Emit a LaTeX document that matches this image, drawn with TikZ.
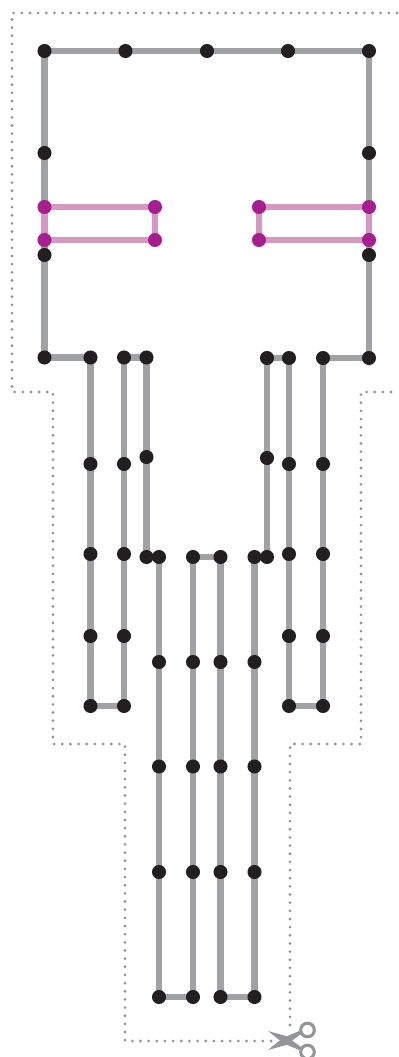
\documentclass[tikz,border=0pt]{standalone}
\usepackage{tikz}
\usetikzlibrary{backgrounds}
\definecolor{wire}{HTML}{A1A2A6}
\definecolor{wirepink}{HTML}{D697C1}
\definecolor{dotblack}{HTML}{231F20}
\definecolor{dotpink}{HTML}{A81E90}
\definecolor{cutgray}{HTML}{939598}
\tikzset{
  stitch/.style={circle, fill=dotblack, inner sep=0pt, minimum size=10pt},
  pinkstitch/.style={circle, fill=dotpink, inner sep=0pt, minimum size=10pt},
  wireline/.style={draw=wire, line width=4.7pt, line join=round},
  pinkline/.style={draw=wirepink, line width=4.7pt, line join=round},
  cutline/.style={draw=cutgray, line width=2.2pt, line cap=round, dash pattern=on 0pt off 5.8pt}
}
\begin{document}
\begin{tikzpicture}[x=0.025cm, y=-0.025cm]
        \useasboundingbox (0,0) rectangle (399,1057);

        % Top edge
        \node[stitch] (t1) at (44.5,51) {};
        \node[stitch] (t2) at (125.5,51) {};
        \node[stitch] (t3) at (207,51) {};
        \node[stitch] (t4) at (288,51) {};
        \node[stitch] (t5) at (369,51) {};

        % Left and right edges
        \node[stitch] (l1) at (44.5,153) {};
        \node[pinkstitch] (l2) at (44.5,207) {};
        \node[pinkstitch] (l3) at (44.5,240) {};
        \node[stitch] (l4) at (44.5,255) {};
        \node[stitch] (l5) at (44.5,357.5) {};
        \node[stitch] (r1) at (369,153) {};
        \node[pinkstitch] (r2) at (369,207) {};
        \node[pinkstitch] (r3) at (369,240) {};
        \node[stitch] (r4) at (369,255) {};
        \node[stitch] (r5) at (369,358) {};

        % Pink inner ends
        \node[pinkstitch] (pl1) at (155,207) {};
        \node[pinkstitch] (pl2) at (155,240) {};
        \node[pinkstitch] (pr1) at (259,207) {};
        \node[pinkstitch] (pr2) at (259,240) {};

        % Left fingers
        \node[stitch] (a1) at (90.5,357.5) {};
        \node[stitch] (a2) at (90.5,464) {};
        \node[stitch] (a3) at (90.5,554) {};
        \node[stitch] (a4) at (90.5,636) {};
        \node[stitch] (a5) at (90.5,706) {};
        \node[stitch] (b1) at (124,357.5) {};
        \node[stitch] (b2) at (124,464) {};
        \node[stitch] (b3) at (124,554) {};
        \node[stitch] (b4) at (124,636) {};
        \node[stitch] (b5) at (124,706) {};
        \node[stitch] (e1) at (146.5,357.5) {};
        \node[stitch] (e2) at (146.5,457) {};
        \node[stitch] (e3) at (146.5,557) {};

        % Right fingers
        \node[stitch] (f1) at (267,358) {};
        \node[stitch] (f2) at (267,458) {};
        \node[stitch] (f3) at (267,557) {};
        \node[stitch] (g1) at (289,358) {};
        \node[stitch] (g2) at (289,464) {};
        \node[stitch] (g3) at (289,554) {};
        \node[stitch] (g4) at (289,636) {};
        \node[stitch] (g5) at (289,706) {};
        \node[stitch] (h1) at (323,358) {};
        \node[stitch] (h2) at (323,464) {};
        \node[stitch] (h3) at (323,554) {};
        \node[stitch] (h4) at (323,636) {};
        \node[stitch] (h5) at (323,706) {};

        % Middle fingers
        \node[stitch] (m1) at (159,557) {};
        \node[stitch] (m2) at (159,662) {};
        \node[stitch] (m3) at (159,766.5) {};
        \node[stitch] (m4) at (159,872) {};
        \node[stitch] (m5) at (159,997) {};
        \node[stitch] (n1) at (193,557) {};
        \node[stitch] (n2) at (193,662) {};
        \node[stitch] (n3) at (193,766.5) {};
        \node[stitch] (n4) at (193,872) {};
        \node[stitch] (n5) at (193,997) {};
        \node[stitch] (o1) at (220.5,557) {};
        \node[stitch] (o2) at (220.5,662) {};
        \node[stitch] (o3) at (220.5,766.5) {};
        \node[stitch] (o4) at (220.5,872) {};
        \node[stitch] (o5) at (220.5,997) {};
        \node[stitch] (q1) at (254.5,557) {};
        \node[stitch] (q2) at (254.5,662) {};
        \node[stitch] (q3) at (254.5,766.5) {};
        \node[stitch] (q4) at (254.5,872) {};
        \node[stitch] (q5) at (254.5,997) {};

        % Wires
        \begin{scope}[on background layer]
          \draw[wireline] (l2.center) -- (t1.center) -- (t5.center) -- (r2.center);
          \draw[wireline] (l3.center) -- (l5.center) -- (a1.center) -- (a5.center) -- (b5.center) -- (b1.center) -- (e1.center) -- (e3.center);
          \draw[wireline] (m1.center) -- (m5.center) -- (n5.center) -- (n1.center) -- (o1.center) -- (o5.center) -- (q5.center) -- (q1.center);
          \draw[wireline] (f3.center) -- (f1.center) -- (g1.center) -- (g5.center) -- (h5.center) -- (h1.center) -- (r5.center) -- (r3.center);
          \draw[pinkline] (pl1.center) -- (l2.center) -- (l3.center) -- (pl2.center) -- cycle;
          \draw[pinkline] (pr1.center) -- (r2.center) -- (r3.center) -- (pr2.center) -- cycle;
        \end{scope}

        % Cut line
        \coordinate (c1) at (397,13);
        \coordinate (c2) at (12,13);
        \coordinate (c3) at (12,392);
        \coordinate (c4) at (53,392);
        \coordinate (c5) at (53,744);
        \coordinate (c6) at (125,744);
        \coordinate (c7) at (125,1041);
        \coordinate (c8) at (271,1041);
        \coordinate (c9) at (290,1025);
        \coordinate (c10) at (290,744);
        \coordinate (c11) at (361,744);
        \coordinate (c12) at (361,392);
        \coordinate (c13) at (397,392);
        \draw[cutline] (c1) -- (c2) -- (c3) -- (c4) -- (c5) -- (c6) -- (c7) -- (c8);
        \draw[cutline] (c9) -- (c10) -- (c11) -- (c12) -- (c13);

        % Scissors
        \fill[cutgray] (268,1031) -- (286,1036) -- (301,1047) -- (299,1050) -- (283,1043) -- cycle;
        \fill[cutgray] (268,1050) -- (286,1045) -- (301,1034) -- (299,1031) -- (283,1038) -- cycle;
        \draw[cutgray, line width=2.2pt] (307.5,1030) circle (6.8);
        \draw[cutgray, line width=2.2pt] (307.5,1052) circle (6.8);

\end{tikzpicture}
\end{document}
